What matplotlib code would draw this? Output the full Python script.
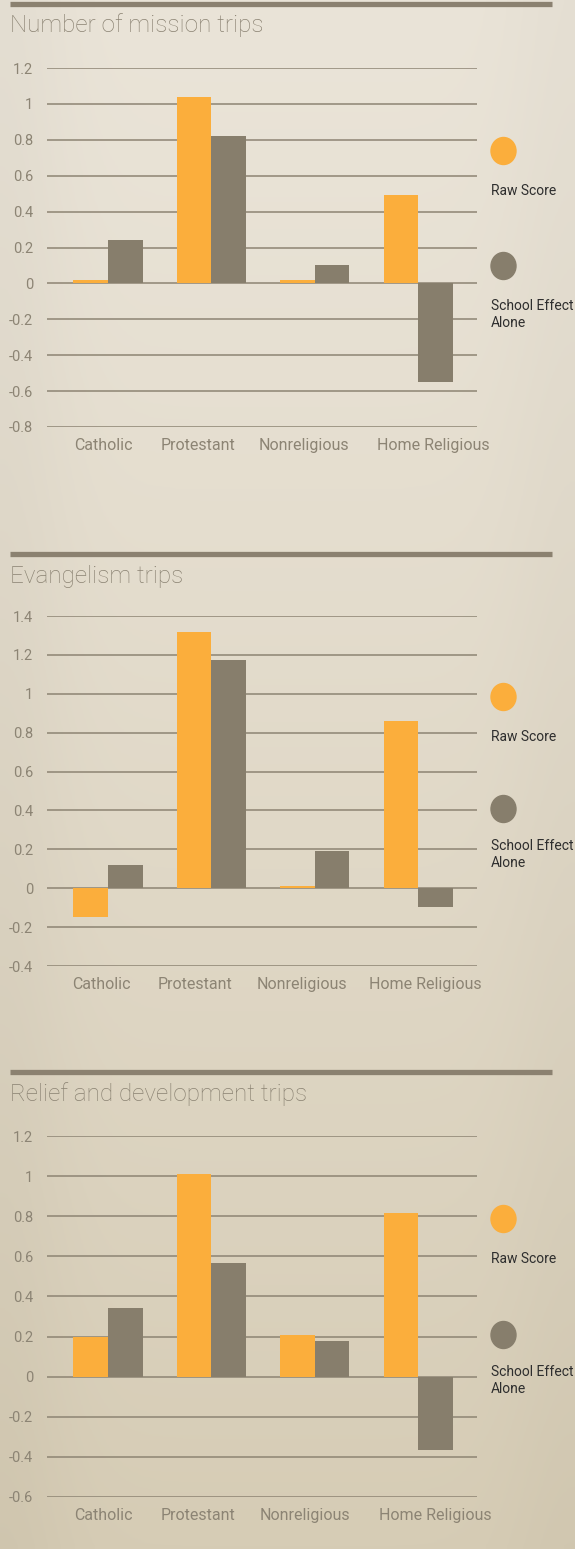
import numpy as np
import matplotlib
matplotlib.use("Agg")
import matplotlib.pyplot as plt
from matplotlib.patches import Ellipse
from matplotlib.lines import Line2D

# ---------------- data ----------------
categories = ["Catholic", "Protestant", "Nonreligious", "Home Religious"]
series_names = ["Raw Score", "School Effect\nAlone"]

titles = ["Number of mission trips", "Evangelism trips", "Relief and development trips"]

mission_raw = [0.02, 1.04, 0.02, 0.49]
mission_school = [0.24, 0.82, 0.10, -0.55]

evangelism_raw = [-0.15, 1.32, 0.01, 0.86]
evangelism_school = [0.12, 1.175, 0.19, -0.095]

relief_raw = [0.20, 1.01, 0.21, 0.815]
relief_school = [0.34, 0.565, 0.18, -0.365]

mission_ticks = [-0.8, -0.6, -0.4, -0.2, 0, 0.2, 0.4, 0.6, 0.8, 1, 1.2]
evangelism_ticks = [-0.4, -0.2, 0, 0.2, 0.4, 0.6, 0.8, 1, 1.2, 1.4]
relief_ticks = [-0.6, -0.4, -0.2, 0, 0.2, 0.4, 0.6, 0.8, 1, 1.2]

# ---------------- style ----------------
W, H = 575, 1549
ORANGE = "#fbae3c"
GREY = "#877e6c"
GRID = "#8d8473"
TXT = "#8c8474"
DARK = "#2e2e2e"
FONT = "Roboto"

fig = plt.figure(figsize=(W / 100, H / 100), dpi=100)

# background parchment gradient
bg = fig.add_axes([0, 0, 1, 1], zorder=-10)
yy = np.linspace(0, 1, 300)[:, None]
xx = np.linspace(0, 1, 200)[None, :]
top = np.array([234, 228, 216]) / 255
bot = np.array([214, 204, 181]) / 255
t = yy ** 1.2
img = top[None, None, :] * (1 - t[..., None]) + bot[None, None, :] * t[..., None]
edge = 0.025 * np.exp(-((xx - 0.0) / 0.12) ** 2) + 0.02 * np.exp(-((xx - 1.0) / 0.12) ** 2)
img = img - edge[..., None] * np.ones((300, 200, 1))
img = np.clip(img * np.ones((300, 200, 3)), 0, 1)
bg.imshow(img, aspect="auto", extent=[0, 1, 0, 1], origin="upper")
bg.set_axis_off()


def fy(py):
    return 1 - py / H


panels = [
    dict(title=titles[0], raw=mission_raw, school=mission_school, ticks=mission_ticks,
         rule=4, title_y=25, top=68, bottom=427, c1=151, c2=266, t1=191, t2=306,
         shifts=[-0.04, -0.13, -0.10, 0.15]),
    dict(title=titles[1], raw=evangelism_raw, school=evangelism_school, ticks=evangelism_ticks,
         rule=554, title_y=576, top=616, bottom=966, c1=697, c2=809, t1=737, t2=846,
         shifts=[-0.06, -0.16, -0.12, 0.07]),
    dict(title=titles[2], raw=relief_raw, school=relief_school, ticks=relief_ticks,
         rule=1072, title_y=1094, top=1136, bottom=1497, c1=1219, c2=1335, t1=1259, t2=1372,
         shifts=[-0.04, -0.13, -0.09, 0.17]),
]

x = np.arange(len(categories))
bw = 0.334

for p in panels:
    # top rule
    fig.add_artist(Line2D([10 / W, 552 / W], [fy(p["rule"])] * 2, color="#8b8170",
                          lw=3.8, solid_capstyle="butt", transform=fig.transFigure))
    fig.text(10 / W, fy(p["title_y"]), p["title"], fontsize=17.5, family=FONT,
             weight="light", color="#8a8272", ha="left", va="center")

    ax = fig.add_axes([47 / W, fy(p["bottom"]), 430 / W, (p["bottom"] - p["top"]) / H])
    ax.set_facecolor("none")
    ticks = p["ticks"]
    ax.set_ylim(ticks[0], ticks[-1])
    ax.set_xlim(-0.59, 3.57)
    for tv in ticks:
        ax.axhline(tv, color=GRID, lw=1.1, zorder=1)
    ax.bar(x - bw / 2, p["raw"], width=bw, color=ORANGE, zorder=3, clip_on=False)
    ax.bar(x + bw / 2, p["school"], width=bw, color=GREY, zorder=3, clip_on=False)
    for s in ax.spines.values():
        s.set_visible(False)
    ax.set_yticks(ticks)
    ax.set_yticklabels(["{:g}".format(v) for v in ticks], family=FONT, fontsize=10.5, color=TXT)
    ax.set_xticks(x + np.array(p["shifts"]))
    ax.set_xticklabels(categories, family=FONT, fontsize=11.5, color=TXT)
    ax.tick_params(axis="y", length=0, pad=10)
    ax.tick_params(axis="x", length=0, pad=8)

    # legend
    fig.add_artist(Ellipse((503.5 / W, fy(p["c1"])), 25 / W, 27 / H, color=ORANGE,
                           transform=fig.transFigure))
    fig.add_artist(Ellipse((503.5 / W, fy(p["c2"])), 25 / W, 27 / H, color=GREY,
                           transform=fig.transFigure))
    fig.text(491 / W, fy(p["t1"]), series_names[0], fontsize=10, family=FONT,
             color=DARK, ha="left", va="center")
    fig.text(491 / W, fy(p["t2"]), series_names[1].split("\n")[0], fontsize=10, family=FONT,
             color=DARK, ha="left", va="center")
    fig.text(491 / W, fy(p["t2"] + 17), series_names[1].split("\n")[1], fontsize=10, family=FONT,
             color=DARK, ha="left", va="center")

fig.savefig("out.png", dpi=100)
